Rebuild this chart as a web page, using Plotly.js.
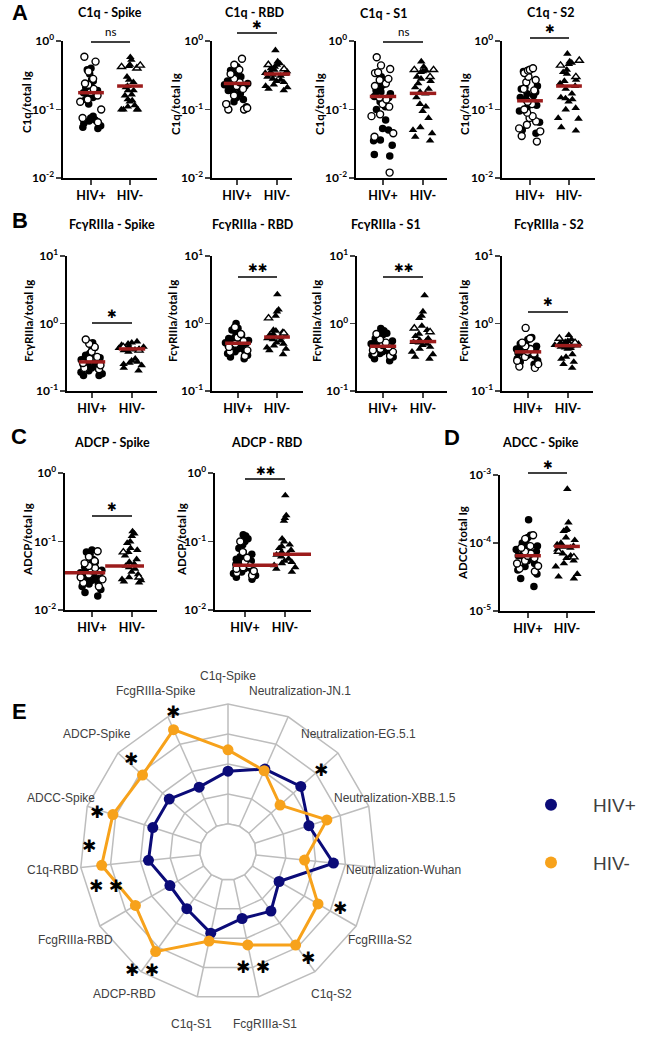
<!DOCTYPE html>
<html>
<head>
<meta charset="utf-8">
<script src="https://cdn.plot.ly/plotly-3.0.1.min.js"></script>
<style>html,body{margin:0;padding:0;background:#fff}</style>
</head>
<body>
<div id="chart" style="width:666px;height:1039px"></div>
<script>
// ---------- group labels and axis ticks ----------
const groupLabels = ['<b>HIV+</b>', '<b>HIV-</b>'];
const ticksLowDecades = [0.01, 0.1, 1];
const tickTextLowDecades = ['<b>10<sup>-2</sup></b>', '<b>10<sup>-1</sup></b>', '<b>10<sup>0</sup></b>'];
const ticksMidDecades = [0.1, 1, 10];
const tickTextMidDecades = ['<b>10<sup>-1</sup></b>', '<b>10<sup>0</sup></b>', '<b>10<sup>1</sup></b>'];
const ticksAdcc = [1e-5, 1e-4, 1e-3];
const tickTextAdcc = ['<b>10<sup>-5</sup></b>', '<b>10<sup>-4</sup></b>', '<b>10<sup>-3</sup></b>'];

// ---------- C1q / total Ig ----------
const c1qSpikePosFilled = [0.40, 0.38, 0.33, 0.27, 0.26, 0.24, 0.22, 0.21, 0.20, 0.19, 0.18, 0.175, 0.17, 0.16, 0.15, 0.14, 0.12, 0.080, 0.075, 0.070, 0.068, 0.063, 0.058, 0.055, 0.053];
const c1qSpikePosOpen = [0.59, 0.50, 0.36, 0.28, 0.24, 0.23, 0.20, 0.18, 0.16, 0.14, 0.13, 0.10, 0.075, 0.065];
const c1qSpikeNegFilled = [0.58, 0.53, 0.45, 0.43, 0.30, 0.27, 0.25, 0.22, 0.21, 0.19, 0.19, 0.165, 0.16, 0.14, 0.135, 0.13, 0.115, 0.11, 0.10, 0.10, 0.10, 0.10];
const c1qSpikeNegOpen = [0.44, 0.42, 0.40];
const c1qSpikeMedian = [0.176, 0.22];

const c1qRbdPosFilled = [0.42, 0.37, 0.34, 0.31, 0.30, 0.28, 0.27, 0.26, 0.25, 0.24, 0.235, 0.23, 0.22, 0.21, 0.20, 0.19, 0.18, 0.17, 0.15, 0.14, 0.13, 0.12, 0.11, 0.10, 0.10];
const c1qRbdPosOpen = [0.55, 0.45, 0.38, 0.33, 0.28, 0.25, 0.22, 0.20, 0.16, 0.12, 0.105, 0.10, 0.10];
const c1qRbdNegFilled = [0.73, 0.50, 0.47, 0.45, 0.42, 0.40, 0.38, 0.36, 0.35, 0.34, 0.33, 0.32, 0.31, 0.30, 0.28, 0.27, 0.26, 0.25, 0.23, 0.22, 0.21, 0.20, 0.19];
const c1qRbdNegOpen = [0.45, 0.39];
const c1qRbdMedian = [0.24, 0.33];

const c1qS1PosFilled = [0.34, 0.30, 0.27, 0.25, 0.23, 0.21, 0.19, 0.18, 0.17, 0.16, 0.155, 0.15, 0.13, 0.11, 0.10, 0.085, 0.07, 0.053, 0.05, 0.036, 0.035, 0.030, 0.022, 0.021];
const c1qS1PosOpen = [0.58, 0.44, 0.39, 0.35, 0.34, 0.28, 0.27, 0.24, 0.22, 0.15, 0.14, 0.12, 0.11, 0.085, 0.08, 0.045, 0.04, 0.012];
const c1qS1NegFilled = [0.50, 0.42, 0.37, 0.36, 0.35, 0.30, 0.28, 0.26, 0.24, 0.21, 0.20, 0.18, 0.17, 0.15, 0.12, 0.11, 0.095, 0.075, 0.055, 0.05, 0.045, 0.04, 0.035];
const c1qS1NegOpen = [0.38, 0.38, 0.30];
const c1qS1Median = [0.155, 0.172];

const c1qS2PosFilled = [0.37, 0.36, 0.35, 0.22, 0.21, 0.20, 0.18, 0.17, 0.16, 0.15, 0.14, 0.13, 0.12, 0.115, 0.104, 0.095, 0.065, 0.05, 0.045];
const c1qS2PosOpen = [0.40, 0.38, 0.37, 0.34, 0.30, 0.27, 0.25, 0.20, 0.19, 0.13, 0.12, 0.10, 0.09, 0.08, 0.075, 0.067, 0.06, 0.053, 0.048, 0.041, 0.034];
const c1qS2NegFilled = [0.65, 0.50, 0.48, 0.46, 0.38, 0.35, 0.33, 0.27, 0.26, 0.24, 0.22, 0.20, 0.17, 0.15, 0.145, 0.14, 0.13, 0.105, 0.10, 0.075, 0.073, 0.055, 0.049];
const c1qS2NegOpen = [0.52, 0.44, 0.30];
const c1qS2Median = [0.134, 0.22];

// ---------- FcγRIIIa / total Ig ----------
const fcrSpikePosFilled = [0.52, 0.44, 0.40, 0.36, 0.34, 0.32, 0.31, 0.30, 0.29, 0.28, 0.27, 0.26, 0.25, 0.24, 0.23, 0.22, 0.21, 0.20, 0.19, 0.18, 0.17, 0.17];
const fcrSpikePosOpen = [0.58, 0.50, 0.45, 0.38, 0.32, 0.30, 0.26, 0.24, 0.22, 0.21];
const fcrSpikeNegFilled = [0.54, 0.52, 0.50, 0.48, 0.46, 0.45, 0.44, 0.43, 0.42, 0.42, 0.41, 0.40, 0.38, 0.30, 0.28, 0.27, 0.26, 0.25, 0.24, 0.22, 0.20];
const fcrSpikeNegOpen = [0.45, 0.40];
const fcrSpikeMedian = [0.27, 0.42];

const fcrRbdPosFilled = [1.0, 0.85, 0.80, 0.75, 0.72, 0.68, 0.65, 0.62, 0.60, 0.58, 0.56, 0.54, 0.52, 0.51, 0.50, 0.48, 0.47, 0.45, 0.43, 0.42, 0.40, 0.38, 0.36, 0.34, 0.32, 0.30];
const fcrRbdPosOpen = [0.88, 0.70, 0.62, 0.55, 0.50, 0.45, 0.40, 0.38, 0.33];
const fcrRbdNegFilled = [2.7, 1.6, 1.5, 1.3, 0.80, 0.78, 0.75, 0.70, 0.68, 0.65, 0.64, 0.62, 0.60, 0.58, 0.56, 0.52, 0.50, 0.47, 0.44, 0.42, 0.40, 0.35];
const fcrRbdNegOpen = [1.2, 0.72];
const fcrRbdMedian = [0.51, 0.63];

const fcrS1PosFilled = [0.84, 0.78, 0.72, 0.68, 0.62, 0.60, 0.57, 0.55, 0.52, 0.50, 0.48, 0.47, 0.46, 0.44, 0.42, 0.40, 0.38, 0.37, 0.36, 0.34, 0.32, 0.30, 0.28];
const fcrS1PosOpen = [0.70, 0.58, 0.52, 0.48, 0.45, 0.42, 0.40, 0.38, 0.36, 0.33];
const fcrS1NegFilled = [2.6, 1.5, 1.3, 1.2, 0.92, 0.80, 0.70, 0.65, 0.60, 0.57, 0.55, 0.53, 0.52, 0.50, 0.48, 0.45, 0.42, 0.38, 0.35, 0.32, 0.30];
const fcrS1NegOpen = [0.85, 0.75];
const fcrS1Median = [0.46, 0.54];

const fcrS2PosFilled = [0.62, 0.58, 0.52, 0.50, 0.48, 0.46, 0.44, 0.42, 0.40, 0.39, 0.38, 0.37, 0.36, 0.35, 0.34, 0.33, 0.32, 0.30, 0.28, 0.27, 0.25];
const fcrS2PosOpen = [0.86, 0.60, 0.52, 0.46, 0.42, 0.38, 0.36, 0.32, 0.28, 0.25, 0.23, 0.22];
const fcrS2NegFilled = [0.67, 0.58, 0.55, 0.53, 0.52, 0.51, 0.50, 0.49, 0.48, 0.47, 0.47, 0.46, 0.45, 0.44, 0.43, 0.42, 0.35, 0.32, 0.30, 0.27, 0.25, 0.22];
const fcrS2NegOpen = [0.60, 0.52];
const fcrS2Median = [0.38, 0.47];

// ---------- ADCP / total Ig ----------
const adcpSpikePosFilled = [0.075, 0.07, 0.065, 0.055, 0.05, 0.047, 0.045, 0.042, 0.04, 0.038, 0.036, 0.035, 0.034, 0.033, 0.032, 0.03, 0.029, 0.028, 0.027, 0.025, 0.024, 0.022, 0.02, 0.018, 0.016];
const adcpSpikePosOpen = [0.072, 0.06, 0.052, 0.048, 0.044, 0.041, 0.038, 0.036, 0.033, 0.03, 0.028, 0.025, 0.022];
const adcpSpikeNegFilled = [0.14, 0.13, 0.12, 0.10, 0.095, 0.08, 0.075, 0.07, 0.062, 0.055, 0.05, 0.047, 0.044, 0.042, 0.04, 0.036, 0.033, 0.03, 0.028, 0.027, 0.026, 0.025];
const adcpSpikeNegOpen = [0.07, 0.03];
const adcpSpikeMedian = [0.035, 0.044];

const adcpRbdPosFilled = [0.125, 0.12, 0.11, 0.10, 0.09, 0.08, 0.07, 0.065, 0.06, 0.055, 0.052, 0.05, 0.048, 0.046, 0.044, 0.042, 0.04, 0.038, 0.036, 0.034, 0.032, 0.03, 0.028];
const adcpRbdPosOpen = [0.10, 0.07, 0.058, 0.05, 0.045, 0.042, 0.04, 0.037, 0.035, 0.032];
const adcpRbdNegFilled = [0.47, 0.24, 0.22, 0.20, 0.11, 0.10, 0.09, 0.085, 0.08, 0.075, 0.07, 0.066, 0.064, 0.06, 0.056, 0.052, 0.05, 0.048, 0.045, 0.042, 0.04, 0.036];
const adcpRbdNegOpen = [];
const adcpRbdMedian = [0.045, 0.065];

// ---------- ADCC / total Ig ----------
const adccSpikePosFilled = [2.2e-4, 1.3e-4, 1.2e-4, 1.1e-4, 1.0e-4, 9.5e-5, 9e-5, 8.5e-5, 8e-5, 7.5e-5, 7e-5, 6.8e-5, 6.5e-5, 6.2e-5, 6e-5, 5.5e-5, 5e-5, 4.5e-5, 4e-5, 3.5e-5, 3e-5, 2.3e-5];
const adccSpikePosOpen = [1.3e-4, 1.15e-4, 9e-5, 8.5e-5, 7.5e-5, 7e-5, 6.5e-5, 6e-5, 5.5e-5, 5e-5, 4.6e-5, 4.2e-5, 3.8e-5];
const adccSpikeNegFilled = [6.2e-4, 2.0e-4, 1.6e-4, 1.55e-4, 1.5e-4, 1.2e-4, 1.1e-4, 1.0e-4, 9.5e-5, 9e-5, 8.8e-5, 8.5e-5, 8e-5, 7e-5, 6.5e-5, 6e-5, 5.5e-5, 5e-5, 4.5e-5, 3.5e-5, 3.2e-5, 3e-5];
const adccSpikeNegOpen = [7.5e-5, 6.2e-5];
const adccSpikeMedian = [6.5e-5, 8.9e-5];

// ---------- radar summary (E) ----------
const radarAxes = ['C1q-Spike', 'Neutralization-JN.1', 'Neutralization-EG.5.1', 'Neutralization-XBB.1.5',
  'Neutralization-Wuhan', 'FcgRIIIa-S2', 'C1q-S2', 'FcgRIIIa-S1', 'C1q-S1', 'ADCP-RBD',
  'FcgRIIIa-RBD', 'C1q-RBD', 'ADCC-Spike', 'ADCP-Spike', 'FcgRIIIa-Spike'];
const radarHivPos = [1.76, 2.09, 2.33, 1.90, 2.60, 1.03, 1.50, 1.33, 1.83, 1.40, 1.30, 1.73, 1.70, 1.70, 1.43];
const radarHivNeg = [2.47, 2.03, 1.40, 2.53, 1.63, 2.53, 2.90, 2.23, 2.10, 3.17, 2.63, 3.30, 3.10, 2.90, 3.53];
const radarSignificance = ['', '', '*', '', '', '*', '*', '**', '', '**', '**', '*', '*', '*', '*'];
const radarGroups = ['HIV+', 'HIV-'];

// ---------- page geometry helpers ----------
const W = 666, H = 1039;
const px = x => x / W;
const py = y => 1 - y / H;

const BLACK = '#000';
const MEDIAN_RED = '#9c1c1c';
const NAVY = '#0b0b78';
const ORANGE = '#f7a21b';
const GRID = '#bdbdbd';
const FONT = 'Lato, "Open Sans", "DejaVu Sans", sans-serif';
const ARIAL = '"Liberation Sans", Arial, sans-serif';

// Each dot-plot panel: pixel frame (L,R left/right, T,B top/bottom), tick centers t0/t1
const panels = [
  {title: 'C1q - Spike', titleX: 110, titleY: 13, ytitle: 'C1q/total Ig', ytX: 27, ytY: 102,
   L: 63, t0: 91, t1: 130, R: 157, T: 41, B: 178, yr: [-2, 0], tv: ticksLowDecades, tt: tickTextLowDecades,
   sets: [c1qSpikePosFilled, c1qSpikePosOpen, c1qSpikeNegFilled, c1qSpikeNegOpen], med: c1qSpikeMedian,
   sig: 'ns', barY: 42, sigY: 32},
  {title: 'C1q - RBD', titleX: 255, titleY: 13, ytitle: 'C1q/total Ig', ytX: 176, ytY: 104,
   L: 212, t0: 237, t1: 277, R: 292, T: 41, B: 178, yr: [-2, 0], tv: ticksLowDecades, tt: tickTextLowDecades,
   sets: [c1qRbdPosFilled, c1qRbdPosOpen, c1qRbdNegFilled, c1qRbdNegOpen], med: c1qRbdMedian,
   sig: '*', barY: 33, sigY: 25},
  {title: 'C1q - S1', titleX: 383, titleY: 14, ytitle: 'C1q/total Ig', ytX: 320, ytY: 104,
   L: 356, t0: 383, t1: 423, R: 447, T: 41, B: 178, yr: [-2, 0], tv: ticksLowDecades, tt: tickTextLowDecades,
   sets: [c1qS1PosFilled, c1qS1PosOpen, c1qS1NegFilled, c1qS1NegOpen], med: c1qS1Median,
   sig: 'ns', barY: 42, sigY: 32},
  {title: 'C1q - S2', titleX: 550, titleY: 13, ytitle: 'C1q/total Ig', ytX: 465, ytY: 104,
   L: 502, t0: 530, t1: 569, R: 595, T: 41, B: 178, yr: [-2, 0], tv: ticksLowDecades, tt: tickTextLowDecades,
   sets: [c1qS2PosFilled, c1qS2PosOpen, c1qS2NegFilled, c1qS2NegOpen], med: c1qS2Median,
   sig: '*', barY: 38, sigY: 29},

  {title: 'FcγRIIIa - Spike', titleX: 112, titleY: 225, ytitle: 'FcγRIIIa/total Ig', ytX: 28, ytY: 321,
   L: 67, t0: 92, t1: 132, R: 157, T: 256, B: 391, yr: [-1, 1], tv: ticksMidDecades, tt: tickTextMidDecades,
   sets: [fcrSpikePosFilled, fcrSpikePosOpen, fcrSpikeNegFilled, fcrSpikeNegOpen], med: fcrSpikeMedian,
   sig: '*', barY: 323, sigY: 314},
  {title: 'FcγRIIIa - RBD', titleX: 253, titleY: 225, ytitle: 'FcγRIIIa/total Ig', ytX: 172, ytY: 321,
   L: 212, t0: 238, t1: 277, R: 303, T: 256, B: 391, yr: [-1, 1], tv: ticksMidDecades, tt: tickTextMidDecades,
   sets: [fcrRbdPosFilled, fcrRbdPosOpen, fcrRbdNegFilled, fcrRbdNegOpen], med: fcrRbdMedian,
   sig: '**', barY: 277, sigY: 268},
  {title: 'FcγRIIIa - S1', titleX: 386, titleY: 225, ytitle: 'FcγRIIIa/total Ig', ytX: 316, ytY: 321,
   L: 357, t0: 383, t1: 423, R: 447, T: 256, B: 391, yr: [-1, 1], tv: ticksMidDecades, tt: tickTextMidDecades,
   sets: [fcrS1PosFilled, fcrS1PosOpen, fcrS1NegFilled, fcrS1NegOpen], med: fcrS1Median,
   sig: '**', barY: 277, sigY: 268},
  {title: 'FcγRIIIa - S2', titleX: 549, titleY: 225, ytitle: 'FcγRIIIa/total Ig', ytX: 463, ytY: 321,
   L: 502, t0: 528, t1: 568, R: 593, T: 256, B: 391, yr: [-1, 1], tv: ticksMidDecades, tt: tickTextMidDecades,
   sets: [fcrS2PosFilled, fcrS2PosOpen, fcrS2NegFilled, fcrS2NegOpen], med: fcrS2Median,
   sig: '*', barY: 312, sigY: 302},

  {title: 'ADCP - Spike', titleX: 112, titleY: 442, ytitle: 'ADCP/total Ig', ytX: 27, ytY: 540,
   L: 65, t0: 92, t1: 132, R: 157, T: 473, B: 610, yr: [-2, 0], tv: ticksLowDecades, tt: tickTextLowDecades,
   sets: [adcpSpikePosFilled, adcpSpikePosOpen, adcpSpikeNegFilled, adcpSpikeNegOpen], med: adcpSpikeMedian,
   medSpan: [[-0.68, 0.33], [0.33, 1.3]], sig: '*', barY: 516, sigY: 507},
  {title: 'ADCP - RBD', titleX: 267, titleY: 442, ytitle: 'ADCP/total Ig', ytX: 181, ytY: 540,
   L: 215, t0: 245, t1: 285, R: 311, T: 473, B: 610, yr: [-2, 0], tv: ticksLowDecades, tt: tickTextLowDecades,
   sets: [adcpRbdPosFilled, adcpRbdPosOpen, adcpRbdNegFilled, adcpRbdNegOpen], med: adcpRbdMedian,
   medSpan: [[-0.3, 0.82], [0.7, 1.8]], sig: '**', barY: 479, sigY: 471},
  {title: 'ADCC - Spike', titleX: 540, titleY: 442, ytitle: 'ADCC/total Ig', ytX: 462, ytY: 543,
   L: 500, t0: 528, t1: 567, R: 595, T: 475, B: 611, yr: [-5, -3], tv: ticksAdcc, tt: tickTextAdcc,
   sets: [adccSpikePosFilled, adccSpikePosOpen, adccSpikeNegFilled, adccSpikeNegOpen], med: adccSpikeMedian,
   sig: '*', barY: 473, sigY: 465}
];

const traces = [];
const layout = {
  width: W, height: H,
  margin: {l: 0, r: 0, t: 0, b: 0},
  paper_bgcolor: '#fff', plot_bgcolor: 'rgba(0,0,0,0)',
  showlegend: true, boxmode: 'overlay',
  shapes: [], annotations: [],
  font: {family: FONT, color: BLACK}
};

function pointCloud(vals, xPos, symbol, open, xa, ya) {
  return {
    type: 'box', x0: xPos, y: vals, xaxis: xa, yaxis: ya,
    boxpoints: 'all', jitter: 1, pointpos: 0, width: 0.68,
    fillcolor: 'rgba(0,0,0,0)', line: {color: 'rgba(0,0,0,0)', width: 0},
    whiskerwidth: 0,
    marker: {symbol: symbol, size: open ? 7 : 7.5, color: open ? '#fff' : BLACK,
             line: {color: BLACK, width: open ? 1.4 : 0}},
    hoverinfo: 'skip', showlegend: false
  };
}

panels.forEach((p, i) => {
  const n = i + 1;
  const xa = n === 1 ? 'x' : 'x' + n;
  const ya = n === 1 ? 'y' : 'y' + n;
  const unit = p.t1 - p.t0;
  const xRange = [(p.L - p.t0) / unit, (p.R - p.t0) / unit];

  layout['xaxis' + (n === 1 ? '' : n)] = {
    domain: [px(p.L), px(p.R)], range: xRange, anchor: ya,
    tickvals: [0, 1], ticktext: groupLabels, ticks: 'outside', ticklen: 5, tickwidth: 1.6,
    showline: true, linewidth: 1.6, linecolor: BLACK, showgrid: false, zeroline: false,
    tickfont: {family: FONT, size: 12.5, color: BLACK}, automargin: false, fixedrange: true
  };
  layout['yaxis' + (n === 1 ? '' : n)] = {
    domain: [py(p.B), py(p.T)], type: 'log', range: p.yr, anchor: xa,
    tickvals: p.tv, ticktext: p.tt, ticks: 'outside', ticklen: 5, tickwidth: 1.6,
    showline: true, linewidth: 1.6, linecolor: BLACK, showgrid: false, zeroline: false,
    tickfont: {family: FONT, size: 12, color: BLACK}, automargin: false, fixedrange: true
  };

  traces.push(pointCloud(p.sets[0], 0, 'circle', false, xa, ya));
  traces.push(pointCloud(p.sets[1], 0, 'circle', true, xa, ya));
  traces.push(pointCloud(p.sets[2], 1, 'triangle-up', false, xa, ya));
  traces.push(pointCloud(p.sets[3], 1, 'triangle-up', true, xa, ya));

  const spans = p.medSpan || [[-0.33, 0.33], [0.67, 1.33]];
  [0, 1].forEach(g => {
    traces.push({
      type: 'scatter', mode: 'lines', x: spans[g], y: [p.med[g], p.med[g]],
      xaxis: xa, yaxis: ya, line: {color: MEDIAN_RED, width: 3.5},
      hoverinfo: 'skip', showlegend: false, cliponaxis: false
    });
  });

  // panel title
  layout.annotations.push({xref: 'paper', yref: 'paper', x: px(p.titleX), y: py(p.titleY),
    text: '<b>' + p.title + '</b>', showarrow: false, xanchor: 'center', yanchor: 'middle',
    font: {family: FONT, size: 12.5, color: BLACK}});
  // y-axis title
  layout.annotations.push({xref: 'paper', yref: 'paper', x: px(p.ytX), y: py(p.ytY),
    text: '<b>' + p.ytitle + '</b>', textangle: -90, showarrow: false, xanchor: 'center', yanchor: 'middle',
    font: {family: FONT, size: 11.5, color: BLACK}});
  // significance bar and mark
  layout.shapes.push({type: 'line', xref: 'paper', yref: 'paper',
    x0: px(p.t0), x1: px(p.t1), y0: py(p.barY), y1: py(p.barY), line: {color: BLACK, width: 1.3}});
  const isNs = p.sig === 'ns';
  layout.annotations.push({xref: 'paper', yref: 'paper', x: px((p.t0 + p.t1) / 2), y: py(p.sigY),
    text: isNs ? 'ns' : p.sig.split('').map(() => '✱').join(''), showarrow: false,
    xanchor: 'center', yanchor: 'middle',
    font: isNs ? {family: FONT, size: 11.5, color: BLACK} : {family: '"DejaVu Sans", sans-serif', size: 11.5, color: BLACK}});
});

// panel letters
[['A', 20, 13], ['B', 20, 220], ['C', 19, 436], ['D', 452, 437], ['E', 19, 711]].forEach(([t, x, y]) => {
  layout.annotations.push({xref: 'paper', yref: 'paper', x: px(x), y: py(y), text: '<b>' + t + '</b>',
    showarrow: false, xanchor: 'center', yanchor: 'middle', font: {family: ARIAL, size: 22, color: BLACK}});
});

// ---------- radar ----------
const RC = {x: 228, y: 852, r: 148};
const closed = arr => arr.concat([arr[0]]);
layout.polar = {
  domain: {x: [px(RC.x - RC.r), px(RC.x + RC.r)], y: [py(RC.y + RC.r), py(RC.y - RC.r)]},
  hole: 0.19, gridshape: 'linear', bgcolor: 'rgba(0,0,0,0)',
  angularaxis: {type: 'category', categoryarray: radarAxes, rotation: 90, direction: 'clockwise',
    showticklabels: false, ticks: '', showline: true, linecolor: GRID, linewidth: 1.5,
    gridcolor: GRID, gridwidth: 1.5},
  radialaxis: {range: [0, 4], tick0: 0, dtick: 1, showticklabels: false, ticks: '', showline: false,
    gridcolor: GRID, gridwidth: 1.5}
};
// inner ring bounding the hole
traces.push({type: 'scatterpolar', theta: closed(radarAxes), r: closed(radarAxes.map(() => 0)), mode: 'lines',
  line: {color: GRID, width: 1.5}, showlegend: false, hoverinfo: 'skip', cliponaxis: false});
const radarSeries = [radarHivPos, radarHivNeg];
const radarColors = [NAVY, ORANGE];
radarSeries.forEach((vals, k) => {
  traces.push({type: 'scatterpolar', theta: closed(radarAxes), r: closed(vals), mode: 'lines',
    line: {color: radarColors[k], width: 3}, showlegend: false, hoverinfo: 'skip', cliponaxis: false});
  traces.push({type: 'scatterpolar', theta: radarAxes, r: vals, mode: 'markers', name: radarGroups[k],
    legendgroup: radarGroups[k], marker: {size: 11, color: radarColors[k]}, showlegend: true,
    hoverinfo: 'skip', cliponaxis: false});
});

layout.legend = {x: px(509), y: py(786), xanchor: 'left', yanchor: 'top', bgcolor: 'rgba(0,0,0,0)',
  font: {family: ARIAL, size: 19, color: '#404040'}, itemwidth: 74, traceorder: 'grouped', tracegroupgap: 30,
  itemsizing: 'constant'};

// category labels around the radar
const LABEL_R = 176;
radarAxes.forEach((name, i) => {
  const a = (90 - 24 * i) * Math.PI / 180;
  layout.annotations.push({xref: 'paper', yref: 'paper',
    x: px(RC.x + LABEL_R * Math.cos(a)), y: py(RC.y - LABEL_R * Math.sin(a)),
    text: name, showarrow: false, xanchor: 'center', yanchor: 'middle',
    font: {family: ARIAL, size: 12, color: '#404040'}});
});

// significance marks next to radar spokes (pixel anchors)
const radarStarAnchors = {2: [321, 770], 5: [340, 908], 6: [308, 958], 7: [253, 967], 9: [142, 970],
  10: [106, 886], 11: [89, 846], 12: [97, 812], 13: [131, 759], 14: [173, 712]};
radarSignificance.forEach((s, i) => {
  if (!s) return;
  const [x, y] = radarStarAnchors[i];
  layout.annotations.push({xref: 'paper', yref: 'paper', x: px(x), y: py(y),
    text: s.split('').map(() => '✱').join(' '), showarrow: false, xanchor: 'center', yanchor: 'middle',
    font: {family: '"DejaVu Sans", sans-serif', size: 17, color: BLACK}});
});

Plotly.newPlot('chart', traces, layout, {displayModeBar: false, staticPlot: true});
</script>
</body>
</html>
